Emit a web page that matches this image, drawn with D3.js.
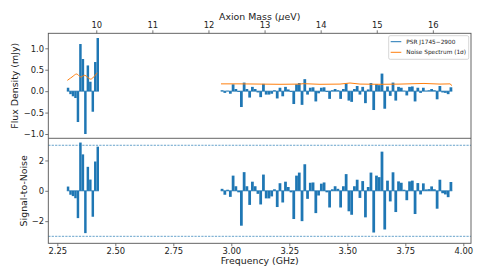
<!DOCTYPE html>
<html><head><meta charset="utf-8">
<script src="https://cdn.jsdelivr.net/npm/d3@7"></script>
<style>body{margin:0;background:#fff}svg{display:block;font-family:"DejaVu Sans",sans-serif}</style>
</head><body><svg id="c" width="484" height="277"></svg>
<script>
// ---- data ----
const seg1Start = 2.291, seg1Width = 0.01067;   // GHz, channel grid of first band
const seg2Start = 2.9543, seg2Width = 0.011884; // GHz, channel grid of second band
const snr1  = [0.28, -0.26, -0.35, -0.49, -1.8, 3.18, 2.4, -2.79, 1.58, 0.74, -1.71, 1.93, 2.91];
const flux1 = [0.08, -0.07, -0.12, -0.16, -0.72, 1.1, 0.75, -1.0, 0.6, 0.22, -0.48, 0.68, 1.24];
const snr2 = [0.13,-0.26,0.07,-0.4,1.0,0.3,-0.1,-2.3,1.23,0.3,-0.93,0.6,0.3,-0.2,-0.9,1.07,-0.5,-0.5,-0.37,0.1,
  -1.07,0.5,-0.77,0.6,0.25,-0.1,-1.86,1.0,1.2,-2.0,1.75,-0.53,0.53,0.55,-1.47,-0.31,0.47,0.55,-0.1,-1.1,
  0.1,0.3,0.13,-1.1,0.3,1.1,-1.35,-1.58,0.3,0.73,-0.47,0.64,-1.75,0.25,1.2,-2.75,1.0,0.9,2.58,-2.55,
  0.67,-0.7,1.22,-1.4,0.62,0.53,0.07,-0.62,0.62,0.67,-1.53,0.51,-0.24,0.49,0.09,0.11,0.29,0.1,-1.18,0.73,
  -0.16,-0.24,-0.42,0.58];
const flux2 = [0.02,-0.04,0.01,-0.06,0.16,0.05,-0.02,-0.37,0.20,0.05,-0.15,0.10,0.05,-0.03,-0.14,0.17,-0.08,-0.08,-0.06,0.02,
  -0.17,0.08,-0.12,0.10,0.04,-0.02,-0.30,0.16,0.19,-0.32,0.28,-0.08,0.08,0.09,-0.24,-0.05,0.08,0.09,-0.02,-0.18,
  0.02,0.05,0.02,-0.18,0.05,0.18,-0.22,-0.25,0.05,0.12,-0.08,0.10,-0.28,0.04,0.19,-0.44,0.16,0.14,0.41,-0.41,
  0.11,-0.11,0.20,-0.22,0.10,0.08,0.01,-0.10,0.10,0.11,-0.24,0.08,-0.04,0.08,0.01,0.02,0.05,0.02,-0.19,0.12,
  -0.03,-0.04,-0.07,0.09];
const noiseFreq1 = [2.2931, 2.3134, 2.3336, 2.3509, 2.3681, 2.3940, 2.4100, 2.4224];
const noise1     = [0.25, 0.33, 0.40, 0.33, 0.37, 0.28, 0.35, 0.43];
const noiseFreq2 = [2.9556,3.0375,3.1237,3.2099,3.2961,3.3100,3.3823,3.4685,3.5116,3.5547,3.6409,3.7271,3.8306,3.8996,3.9427,3.9513];
const noise2     = [0.17,0.17,0.165,0.16,0.165,0.175,0.16,0.165,0.19,0.165,0.16,0.165,0.18,0.165,0.17,0.13];
const freqTicks = [2.25, 2.5, 2.75, 3.0, 3.25, 3.5, 3.75, 4.0];
const massTicks = [10, 11, 12, 13, 14, 15, 16];
const fluxTicks = [-1.0, -0.5, 0.0, 0.5, 1.0];
const snrTicks = [-2, 0, 2];
const snrThresholds = [3, -3];
const legendLabels = ["PSR J1745\u22122900", "Noise Spectrum (1\u03c3)"];
const ueVperGHz = 4.135667;

// ---- layout ----
const L = 48.3, R = 471, T1 = 33.3, B1 = 138.3, T2 = 138.3, B2 = 243.3;
const BLUE = "#1f77b4", ORANGE = "#ff7f0e", INK = "#222", SPINE = "#555";
const svg = d3.select("#c");
const x = d3.scaleLinear().domain([2.2112, 4.0332]).range([L, R]);
const xm = d3.scaleLinear().domain(x.domain().map(f => f * ueVperGHz)).range([L, R]);
const y1 = d3.scaleLinear().domain([-1.1, 1.35]).range([B1, T1]);
const y2 = d3.scaleLinear().domain([-3.46, 3.46]).range([B2, T2]);

function chan(start, w, vals) {
  return vals.map((v, i) => ({ f0: start + i * w, f1: start + (i + 1) * w, v }));
}
const bands = [
  { start: seg1Start, w: seg1Width, flux: flux1, snr: snr1 },
  { start: seg2Start, w: seg2Width, flux: flux2, snr: snr2 }
];

function drawBars(g, data, y) {
  g.selectAll(null).data(data).enter().append("rect")
    .attr("x", d => x(d.f0))
    .attr("width", d => x(d.f1) - x(d.f0))
    .attr("y", d => Math.min(y(d.v), y(0)))
    .attr("height", d => Math.abs(y(d.v) - y(0)))
    .attr("fill", BLUE);
}

const gBars = svg.append("g");
bands.forEach(b => {
  const end = b.start + b.w * b.flux.length;
  [[b.flux, y1], [b.snr, y2]].forEach(([vals, y]) => {
    drawBars(gBars, chan(b.start, b.w, vals), y);
    gBars.append("line").attr("x1", x(b.start)).attr("x2", x(end))
      .attr("y1", y(0)).attr("y2", y(0)).attr("stroke", BLUE).attr("stroke-width", 0.8);
  });
});

// noise lines
const nl = d3.line().x(d => x(d[0])).y(d => y1(d[1]));
svg.append("path").attr("d", nl.curve(d3.curveCatmullRom)(noiseFreq1.map((f, i) => [f, noise1[i]])))
  .attr("fill", "none").attr("stroke", ORANGE).attr("stroke-width", 1);
svg.append("path").attr("d", d3.line().x(d => x(d[0])).y(d => y1(d[1]))(noiseFreq2.map((f, i) => [f, noise2[i]])))
  .attr("fill", "none").attr("stroke", ORANGE).attr("stroke-width", 1);

// threshold lines
svg.selectAll(null).data(snrThresholds).enter().append("line")
  .attr("x1", L).attr("x2", R).attr("y1", d => y2(d)).attr("y2", d => y2(d))
  .attr("stroke", BLUE).attr("stroke-width", 0.8).attr("stroke-dasharray", "2.2,1.2").attr("opacity", 0.85);

// frames
svg.append("rect").attr("x", L).attr("y", T1).attr("width", R - L).attr("height", B2 - T1)
  .attr("fill", "none").attr("stroke", SPINE).attr("stroke-width", 0.9);
svg.append("line").attr("x1", L).attr("x2", R).attr("y1", B1).attr("y2", B1)
  .attr("stroke", SPINE).attr("stroke-width", 0.9);

function styleAxis(g) {
  g.select(".domain").remove();
  g.selectAll(".tick line").attr("stroke", SPINE).attr("stroke-width", 0.8);
  g.selectAll(".tick text").attr("fill", INK).style("font-size", "8.4px").style("font-family", "DejaVu Sans");
}
svg.append("g").attr("transform", `translate(0,${B2})`)
  .call(d3.axisBottom(x).tickValues(freqTicks).tickFormat(d3.format(".2f")).tickSize(3).tickPadding(1.8))
  .call(styleAxis);
svg.append("g").attr("transform", `translate(0,${T1})`)
  .call(d3.axisTop(xm).tickValues(massTicks).tickFormat(d3.format("d")).tickSize(3).tickPadding(2.2))
  .call(styleAxis);
svg.append("g").attr("transform", `translate(${L},0)`)
  .call(d3.axisLeft(y1).tickValues(fluxTicks).tickFormat(d3.format(".1f")).tickSize(3).tickPadding(1.3))
  .call(styleAxis);
svg.append("g").attr("transform", `translate(${L},0)`)
  .call(d3.axisLeft(y2).tickValues(snrTicks).tickFormat(d3.format("d")).tickSize(3).tickPadding(1.3))
  .call(styleAxis);

// axis labels
const lab = (t, px, py, rot) => {
  const el = svg.append("text").attr("text-anchor", "middle").attr("fill", INK)
    .style("font-size", "9.4px").attr("dominant-baseline", "central")
    .attr("transform", `translate(${px},${py})` + (rot ? " rotate(-90)" : ""));
  return el;
};
lab(null, (L + R) / 2, 260.5).text("Frequency (GHz)");
const ax = lab(null, (L + R) / 2, 15.5);
ax.append("tspan").text("Axion Mass (");
ax.append("tspan").style("font-style", "italic").text("\u03bc");
ax.append("tspan").text("eV)");
lab(null, 14.2, (T1 + B1) / 2, true).text("Flux Density (mJy)");
lab(null, 23.6, (T2 + B2) / 2, true).text("Signal-to-Noise");

// legend
const lg = svg.append("g");
lg.append("rect").attr("x", 388.7).attr("y", 35.7).attr("width", 80).attr("height", 23.6).attr("rx", 1.5)
  .attr("fill", "#fff").attr("stroke", "#ccc").attr("stroke-width", 0.8);
[BLUE, ORANGE].forEach((c, i) => {
  const yy = 41.7 + i * 10.6;
  lg.append("line").attr("x1", 390.7).attr("x2", 401.3).attr("y1", yy).attr("y2", yy)
    .attr("stroke", c).attr("stroke-width", 1);
  lg.append("text").attr("x", 406.3).attr("y", yy).attr("dominant-baseline", "central")
    .attr("fill", INK).style("font-size", "5.8px").text(legendLabels[i]);
});
</script></body></html>
